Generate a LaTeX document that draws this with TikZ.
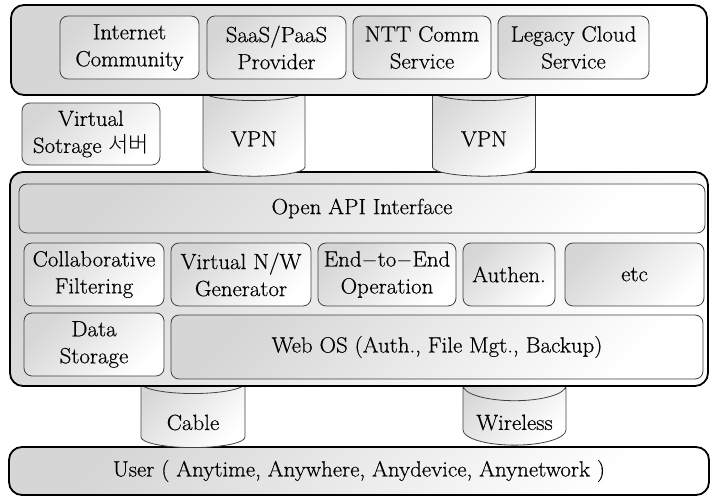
\documentclass[tikz,border=0pt]{standalone}
\usepackage{fontspec}
\usepackage{tikz}
\usetikzlibrary{shapes.geometric}
\setmainfont{Latin Modern Roman}[FakeStretch=1.04,FakeBold=0.5]
\newfontfamily\krfont{Noto Sans CJK KR}[UprightFont=* Light]

\begin{document}
\begin{tikzpicture}[x=1pt,y=1pt,
  font=\fontsize{22}{27}\selectfont,
  outerbox/.style={draw=black,line width=1.8pt,rounded corners=13pt,
    top color=fillGray,bottom color=white,shading angle=45},
  innerbox/.style={draw=drawColor,line width=0.8pt,rounded corners=8pt,
    top color=fillGray,bottom color=white,shading angle=45,
    align=center,inner sep=0pt},
  drum/.style={cylinder,shape border rotate=90,aspect=0.4,draw=drawColor,
    line width=0.8pt,top color=fillGray,bottom color=white,shading angle=45,
    inner sep=0pt}]
\definecolor{drawColor}{RGB}{64,64,64}
\definecolor{fillGray}{RGB}{214,214,214}
\path[use as bounding box,fill=white] (0,0) rectangle (710,497);

% user layer and access lines
\node[outerbox,minimum width=700,minimum height=48] (user) at (359,26)
  {User ( Anytime, Anywhere, Anydevice, Anynetwork )};
\node[drum,minimum width=104,minimum height=75] (cable) at (193,81.5)
  {\raisebox{-7pt}[\height][\depth]{Cable}};
\node[drum,minimum width=103,minimum height=75] (wireless) at (514.5,81.5)
  {\raisebox{-7pt}[\height][\depth]{Wireless}};

% platform
\node[outerbox,minimum width=698,minimum height=214] (platform) at (359,218) {};
\node[innerbox,minimum width=686,minimum height=49] (api) at (362,288.5) {Open API Interface};
\node[innerbox,minimum width=140,minimum height=63] (collab) at (94,222.5) {Collaborative\\Filtering};
\node[innerbox,minimum width=140,minimum height=63] (vnw) at (241,222.5) {Virtual N/W\\Generator};
\node[innerbox,minimum width=138,minimum height=63] (e2e) at (387,222.5) {End$-$to$-$End\\Operation};
\node[innerbox,minimum width=92,minimum height=63] (authen) at (509,222.5) {Authen.};
\node[innerbox,minimum width=139,minimum height=63] (etc) at (634.5,222.5) {etc};
\node[innerbox,minimum width=140,minimum height=63] (data) at (94,152.5) {Data\\Storage};
\node[innerbox,minimum width=532,minimum height=64] (webos) at (437,150) {Web OS (Auth., File Mgt., Backup)};

% VPN links
\node[drum,minimum width=102,minimum height=94] (vpnA) at (254,363)
  {\raisebox{-5pt}[\height][\depth]{VPN}};
\node[drum,minimum width=103,minimum height=94] (vpnB) at (484,363)
  {\raisebox{-5pt}[\height][\depth]{VPN}};
\node[innerbox,minimum width=138,minimum height=62] (vstore) at (91,363) {Virtual\\Sotrage {\krfont 서버}};

% service layer
\node[outerbox,minimum width=696,minimum height=90] (services) at (359,447) {};
\node[innerbox,minimum width=139,minimum height=63] (inet) at (129.5,449.5) {Internet\\Community};
\node[innerbox,minimum width=139,minimum height=63] (saas) at (276.5,449.5) {SaaS/PaaS\\Provider};
\node[innerbox,minimum width=138,minimum height=63] (ntt) at (422,449.5) {NTT Comm\\Service};
\node[innerbox,minimum width=151,minimum height=63] (legacy) at (573.5,449.5) {Legacy Cloud\\Service};
\end{tikzpicture}
\end{document}
